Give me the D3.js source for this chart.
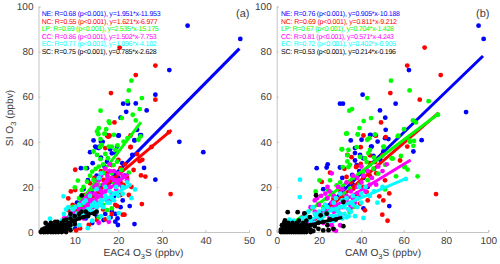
<!doctype html>
<html>
  <head>
    <title>SI O3 vs O3S</title>
    <style>
      html, body { margin: 0; background: #fff; }
      svg text { font-family: "Liberation Sans", Arial, sans-serif; text-rendering: geometricPrecision; }
      .axis path, .axis line { stroke: #c4c4c4; }
      .axis text { fill: #404040; font-size: 10px; }
      .title { fill: #404040; font-size: 10.2px; }
      .tag { fill: #404040; font-size: 11px; }
      .stats { font-size: 7px; }
    </style>
    <script src="https://d3js.org/d3.v7.min.js"></script>
  </head>
  <body>
  <script>
    const regions = ["NE", "NC", "LP", "CC", "EC", "SC"];
    const colors = ["#0000ff", "#ff0000", "#00ff00", "#ff00ff", "#00ffff", "#000000"];
    const yTicks = [0, 20, 40, 60, 80, 100];
    const xTicksA = [10, 20, 30, 40, 50];
    const xTicksB = [0, 20, 40, 60, 80, 100];

    // from the printed stats: R, slope, intercept
    const rA = ["0.68", "0.55", "0.69", "0.86", "0.77", "0.75"];
    const slopeA = [1.951, 1.621, 2.535, 1.502, 1.096, 0.785];
    const interceptA = [-11.953, -6.977, -15.175, -7.753, -4.102, -2.628];
    const rB = ["0.76", "0.69", "0.67", "0.81", "0.72", "0.53"];
    const slopeB = [0.905, 0.811, 0.704, 0.571, 0.402, 0.214];
    const interceptB = [-10.188, -9.212, -1.428, -4.243, -0.905, -0.196];

    // fit line x extents
    const lineXA = [[6.5, 47.8], [4.5, 32.2], [6, 25.2], [5.2, 22.3], [4, 23], [3.4, 15.2]];
    const lineXB = [[12, 97.5], [12, 76.5], [3, 76], [8, 63.3], [3, 61], [1, 31]];

    // panel (a) points, EAC4 O3S vs SI O3
    const neA = [[35.9,91.5],[48,85.6],[31.7,71.8],[28.5,60.9],[26.5,53.9],[24,57],[21.1,56.9],[22.2,56.9],[21.8,53.3],[20.5,50.7],[24.3,45.3],[34,40],[39.5,35.4],[28.5,23.2],[25.9,28.4],[23.7,3.5],[22.6,11.5],[25.2,43],[23.7,40.7],[19.5,34.8],[14.3,40.6],[16.4,40],[20,42.7],[23.7,40.6],[25,43],[14.9,37.5],[15.7,37.9],[18.1,36.7],[14.7,37.9],[15.5,37.2],[13.5,35.4],[16,40.1],[17.4,42.8],[20.1,42.8],[18.5,34.9],[19.7,37.9],[11.4,28.3],[12.8,28.3],[14.1,30.5],[17.4,31.2],[20.9,30.5],[23.2,34.2],[19.9,3.1],[19.3,4.6],[18.5,9],[19.3,8],[18.2,6.5],[15.1,6.8],[16.6,5.3],[13,8.3],[10.1,1.6],[20.9,20.1],[15.9,17.2],[17.4,20.9],[19.3,26],[14,17.2],[11.6,15.7],[16,33],[16.8,29],[18,27],[15,25],[13,23],[21.5,25],[20,24],[18,22],[16,20],[14.5,21],[12,19],[10.5,13],[17.5,14],[19,16],[20.5,11],[21,14],[19.8,6],[14,4],[17,8],[12.5,6]];
    const ncA = [[20.3,81.8],[28.5,73.8],[24,69.6],[18.3,61.6],[28.5,58.7],[19.1,48.6],[31.6,44.3],[32,16.8],[25.4,12.4],[21.4,7.7],[21,7.7],[25.2,25.1],[24.9,31.4],[22.8,37.7],[27.6,37.7],[10.1,27.6],[9.1,18],[10.3,0.7],[17.6,42.4],[18,42.8],[22.8,42.8],[22.8,37.6],[17,37.2],[17.8,42.3],[24.3,34.5],[25.5,32],[23.5,27.5],[20.5,28.3],[26.2,24.6],[19.3,12],[19.7,11.5],[10.1,18.6],[8.5,14.9],[10.1,5.3],[17,5.6],[15.1,5.3],[13.2,3.1],[11.2,1.6],[14.3,11.2],[21.2,20.9],[17.4,26],[13.5,21.6],[12.4,16.4],[22.4,16.4],[18.5,29.7],[16.6,23.1],[20.5,16.4],[8.5,9.7],[19,24],[15.5,18],[14,15],[11,12],[9.5,12],[18,14],[16.5,10],[20.5,22],[22,24],[23,20],[12,8],[18.5,8],[16,27],[14.5,24],[20,32],[21.5,30]];
    const lpA = [[23,67.1],[22.4,62.8],[22.1,58],[25.4,59.4],[15.9,53.8],[24.9,54.5],[23.3,52],[20.8,50.5],[24,49.5],[17.8,49],[18,48.3],[15.5,46],[17.2,45.6],[15.4,43.4],[16.8,43.6],[19,43.1],[25.1,42.4],[24.6,40.9],[19.8,38.4],[15.8,37.6],[17.8,37.9],[22.1,41.6],[15.1,44.6],[16.9,43.5],[15.9,41.2],[14.3,35.7],[15.1,34.2],[15.9,32.3],[17,34.6],[17.6,32.7],[12.4,28.3],[14,26.8],[10.7,22.8],[10,19.8],[11.6,18.6],[18.9,29.7],[19.7,31.2],[20.7,27.5],[15.5,29],[16.6,26],[12.8,22.3],[14.3,23.1],[13.2,17.2],[11.6,12],[14.7,14.2],[17.4,9.7],[18.5,10.5],[15.5,6.5],[12.4,9.7],[10.5,8.3],[22.4,26.3],[19.3,36.4],[16.2,38.6],[18.5,37.9],[21.2,40.1],[16.5,30],[14.8,28],[13.5,25],[12,20],[11,15],[13,14],[15.5,21],[14,19],[17.5,24],[18.5,26],[16,16],[13.5,11],[12.5,13],[9.5,11],[16.5,12],[19,22]];
    const ccA = [[7,4],[8,6],[8.5,3.5],[9,7],[9.5,9],[10,5],[10.5,11],[11,8],[11.5,13],[12,10],[12.5,15],[12,6],[13,12],[13.5,17],[14,14],[14,9],[14.5,20],[15,16],[15,11],[15.5,23],[15.5,19],[16,25],[16,14],[16.5,21],[17,18],[17,28],[17.5,25],[17.5,23],[18,20],[18,30],[18.5,17],[19,27],[19,23],[20,26],[20,21],[21,25],[22,23],[15.5,4.1],[17.8,4.5],[6,2],[7.5,6],[9,4.5],[10,8],[11,10],[11.5,7],[12.5,12],[13,8],[13.5,14],[14.5,17],[15,13],[16,18],[16.5,16],[17,22],[17.5,14],[18.5,24],[19.5,19],[16,12],[14,11],[12,14],[13,16],[15,21],[18,27],[20,23]];
    const ecA = [[7.4,15.8],[4.3,5.9],[13,1.7],[23.8,18.9],[23,15],[20.1,8.4],[17.8,6.2],[6,4],[7,5],[7.5,8],[8,10],[8.5,11],[9,7],[9.5,10],[10,11],[10.5,8],[11,12],[11.5,9],[12,13],[12.5,14],[13,10],[13,7],[13.5,16],[14,12],[14.5,13],[15,19],[15,9],[15.5,24],[16,14],[16,26],[16.5,11],[17,16],[17,20],[17.5,13],[18,18],[18.5,15],[19,17],[19.5,20],[20,16],[21,20],[22,22],[21,17],[14,5],[11,3],[10,3.5],[9,1.5],[8.5,2],[8,5],[9,5],[10,6],[11,7],[12,8],[14,9],[15,11],[16,12],[18,13],[19,14],[16,7]];
    const scA = [[2.2,0],[2.8,0],[3.2,0],[3.8,0],[4.5,0],[5,0],[5.6,0],[6.2,0],[7,0],[2.5,1],[3,1.5],[3.5,0.5],[4,1],[4.5,2],[5,1],[5.5,2],[6,0.7],[6.5,1.5],[7,1],[7.5,0.5],[3.5,2],[4,3],[4.5,3.5],[5,3],[5.5,3.3],[6,2.5],[6.5,3],[7,2.5],[7.5,3],[8,1.5],[3.3,4],[4.5,4],[6,4.5],[7,4],[8,3],[8.5,4],[9,3],[9,6],[9.5,5],[10,5],[10,7],[11,6],[11,8],[11.5,9],[11.6,16.2],[12,6.5],[12.5,9],[13,7],[13,8],[15,9],[14.5,8],[8,5.5],[9,8],[10,3.5],[7.5,5],[5.5,4.5],[8.5,2],[9,0.8],[8,0]];

    // panel (b) points, CAM O3S vs SI O3
    const neB = [[95.4,91.5],[97.8,85.6],[62.5,71.8],[40.6,60.9],[29.9,56.9],[31.3,56.9],[48.8,53.9],[89.5,53.2],[51.3,50.7],[56.2,56.9],[51.5,45.3],[35,40.6],[44.4,43.1],[46.5,43.1],[47.7,40.1],[51.2,41.6],[52.8,41.2],[68.5,40.7],[64.6,35.7],[44.6,37.9],[37,35],[29.9,28.6],[39.4,34.2],[45.7,33.8],[50.4,35.7],[37,31.7],[18.9,28.3],[23.6,28.6],[24.1,30],[22,19],[26.3,17.2],[31.5,19.4],[37.8,29.7],[40.1,40.9],[44.1,43],[46.4,43],[44.9,37.9],[40.9,32.7],[37,37.2],[35.7,25.3],[41,10.5],[28.3,11.2],[53.2,11.5],[31,24],[36,21],[41,24],[46,28],[49,32],[33,15],[38,17],[43,20],[28,14],[35,12],[39,27],[30,8],[25,6]];
    const ncB = [[69.9,81.8],[61.7,73.8],[77.5,69.6],[53.7,61.6],[67.6,58.7],[49.3,48.6],[41,42.8],[51.5,42.1],[61.7,37.9],[39.7,37.6],[33.4,34.2],[35.4,33.2],[58.3,31.7],[46.9,42.7],[39.7,30.2],[37.8,29],[44.1,30.5],[75.3,16.8],[52.4,5],[49.9,7.7],[50.4,14],[48.5,15.8],[53.2,17.1],[51.2,22.9],[21.3,22.2],[25.2,26.3],[41.7,9.6],[36.2,19.2],[33,24.4],[37.5,28.8],[42.5,17.7],[44.1,34],[26.8,14.8],[34.6,10],[39.4,12.6],[29.9,18.5],[46.5,31],[35,22],[38,16],[41,20],[44,25],[31,15],[28,11],[24,9],[43,14],[47,26],[32,28],[50,34]];
    const lpB = [[54,67.1],[62.8,62.8],[42.8,59.4],[71.8,58],[35.6,54.5],[34.3,53.8],[44.6,50.5],[41.1,49.2],[39.1,46.1],[64.4,49.5],[65.8,48.6],[76.2,52],[60.2,45.6],[32.8,43.6],[38.3,43.4],[43.8,41.6],[42.8,40.9],[57.5,42.7],[62.7,40.6],[64.9,40.4],[30.9,36.7],[33.9,36.4],[37.8,37.6],[44.1,36.4],[43.3,35],[50.4,37.9],[54.3,32.7],[33.4,31.3],[34.6,29.8],[41.7,32.7],[60.6,29],[51.2,29.8],[30.7,36.7],[33.2,43.7],[38.3,43.2],[46.5,43.2],[57.2,42.5],[63,40],[64.6,38.2],[66.6,24.7],[56.4,24.7],[61.9,27.7],[60.3,28.8],[58.7,33.7],[54.8,32.5],[51.2,18.9],[18.4,18],[20.2,22.9],[25.2,22.9],[31.2,28.8],[33.5,34],[50.7,37.7],[48,25.9],[45.7,28.1],[39.4,33.3],[33.9,28.8],[28.3,20.7],[24.4,18.5],[19.7,12.5],[34.6,19.2],[37.8,14.8],[41,26.6],[42.5,31],[34.6,8.8],[26.8,10.3],[23.6,14.8],[30,22],[36,24],[39,21],[27,16],[32,17],[22,11],[43,23],[46,33],[29,12],[36,11]];
    const ccB = [[15,6],[16,11],[18,9],[20,12],[20,6],[22,4],[24,8],[24,15],[25,18],[26,26],[26,3],[27,1],[28,12],[28,0.5],[29,20],[30,17],[30,7],[32,14],[33,22],[34,10],[35,18],[36,25],[37,13],[38,20],[39,16],[40,22],[40,29],[42,18],[43,27],[45,24],[47,21],[48,29],[50,27],[52,30],[30,3],[18,14],[21,16],[23,12],[27,9],[25,6],[13,8],[17,5],[19,15],[22,8],[23,17],[26,13],[27,16],[29,10],[31,11],[33,16],[35,11],[36,15],[38,24],[41,25],[44,21],[24,20],[28,6],[31,19],[34,13]];
    const ecB = [[11,23.2],[10.9,15.5],[47.6,13],[41,6.2],[6,5.5],[8,5],[10,3],[12,6],[14,7],[15,9],[16,5],[17,11],[18,4],[19,7],[20,9],[21,6],[22,10],[23,12],[24,8],[25,5],[26,10],[27,13],[28,7],[29,9],[30,11],[31,14],[32,8],[33,6.5],[34,10],[35,13],[36,16],[37,7],[38,11],[39,20],[40,13],[42,20],[44,16],[46,18],[50,20],[61,23.5],[30,17],[28,15],[13,4],[15,6],[18,8],[20,5],[22,7],[24,11],[26,7],[28,10],[30,8],[32,11],[34,7],[36,12],[38,15],[40,17],[33,15],[35,9],[27,5],[31,6]];
    const scB = [[18.6,16.3],[5.2,8.8],[9.9,8.8],[13.1,8.3],[3.9,5.1],[31.5,2.6],[31.5,13.3],[24.5,0.8],[26.8,1.4],[17.3,0.4],[19.7,1.4],[22,0.7],[25.2,5.6],[23.6,8.1],[19.7,4.1],[15.7,6.6],[20.8,7.4],[2,0],[3,0],[4,0],[5,0],[6,0],[7,0],[8,0],[9,0],[10,0],[11,0],[12,0],[14,0],[2,1],[3,2],[4,1],[5,2],[6,1],[7,2],[8,1],[9,2],[10,1],[11,2],[12,1],[13,2],[14,1],[16,1],[2.5,3],[3.5,4],[4.5,3],[5.5,4],[6.5,3],[7.5,4],[8.5,3],[9.5,4],[10.5,5],[11.5,3],[12.5,4],[14,5],[16,3],[18,2.5],[22,4.5],[24,3],[28,5.5],[15,2],[13,0],[16,0],[3,1],[5,1],[8,2.5],[10,2.5],[12,2.5],[14,3]];

    const pointsA = [neA, ncA, lpA, ccA, ecA, scA];
    const pointsB = [neB, ncB, lpB, ccB, ecB, scB];

    const svg = d3.select("body").append("svg")
      .attr("width", 500)
      .attr("height", 264);

    function drawPanel(p) {
      const x = d3.scaleLinear().domain(p.xDomain).range(p.xRange);
      const y = d3.scaleLinear().domain([0, 100]).range([232, 6.5]);
      const g = svg.append("g");

      g.append("g").attr("class", "axis")
        .attr("transform", "translate(0,232)")
        .call(d3.axisBottom(x).tickValues(p.xTicks).tickSize(-2).tickPadding(5));
      g.append("g").attr("class", "axis")
        .attr("transform", "translate(" + p.xRange[0] + ",0)")
        .call(d3.axisLeft(y).tickValues(yTicks).tickSize(-2).tickPadding(5));

      // each region: dots first, then its fit line
      regions.forEach(function(r, i) {
        g.append("g").selectAll("circle")
          .data(p.points[i])
          .enter().append("circle")
          .attr("cx", d => x(d[0]))
          .attr("cy", d => y(d[1]))
          .attr("r", 2.4)
          .attr("fill", colors[i]);

        g.append("line")
          .attr("x1", x(p.lineX[i][0]))
          .attr("y1", y(Math.max(0, p.slope[i] * p.lineX[i][0] + p.intercept[i])))
          .attr("x2", x(p.lineX[i][1]))
          .attr("y2", y(p.slope[i] * p.lineX[i][1] + p.intercept[i]))
          .attr("stroke", colors[i])
          .attr("stroke-width", 3);

        g.append("text")
          .attr("class", "stats")
          .attr("x", p.statsX)
          .attr("y", 16 + i * 7.5)
          .attr("fill", colors[i])
          .attr("textLength", p.statsLen[i])
          .text(r + ": R=" + p.r[i] + " (p<0.001), y=" + p.slope[i].toFixed(3) + "*x" + p.intercept[i].toFixed(3));
      });

      g.append("text")
        .attr("class", "tag")
        .attr("x", p.tagX)
        .attr("y", 17)
        .text(p.tag);

      const xl = g.append("text")
        .attr("class", "title")
        .attr("x", p.labelX)
        .attr("y", 256)
        .attr("text-anchor", "middle");
      xl.append("tspan").text(p.xLabel + " O");
      xl.append("tspan").attr("dy", 2.5).attr("font-size", 7.5).text("3");
      xl.append("tspan").attr("dy", -2.5).text("S (ppbv)");
    }

    drawPanel({
      xDomain: [1.66, 50], xRange: [38.5, 249], xTicks: xTicksA,
      points: pointsA, lineX: lineXA, slope: slopeA, intercept: interceptA, r: rA,
      statsLen: [119, 116, 117, 115, 115, 115],
      statsX: 41.7, tagX: 236, tag: "(a)", labelX: 143.5, xLabel: "EAC4"
    });
    drawPanel({
      xDomain: [0, 100], xRange: [276.7, 488.3], xTicks: xTicksB,
      points: pointsB, lineX: lineXB, slope: slopeB, intercept: interceptB, r: rB,
      statsLen: [119, 116, 113, 113, 115, 115],
      statsX: 281, tagX: 476, tag: "(b)", labelX: 383, xLabel: "CAM"
    });

    const yl = svg.append("text")
      .attr("class", "title")
      .attr("transform", "translate(13,118) rotate(-90)")
      .attr("text-anchor", "middle");
    yl.append("tspan").text("SI O");
    yl.append("tspan").attr("dy", 2.5).attr("font-size", 7.5).text("3");
    yl.append("tspan").attr("dy", -2.5).text(" (ppbv)");
  </script>
  </body>
</html>
